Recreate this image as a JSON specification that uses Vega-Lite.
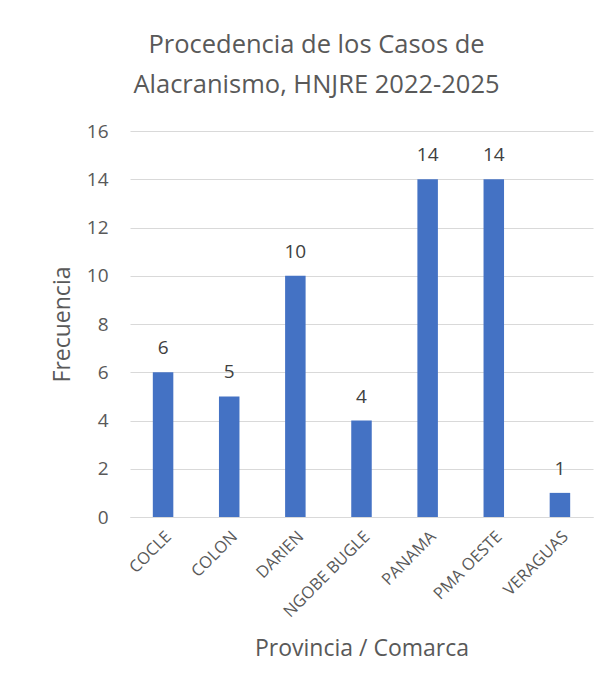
{
  "$schema": "https://vega.github.io/schema/vega-lite/v6.json",
  "width": 463,
  "height": 386,
  "autosize": {"type": "none"},
  "padding": {"left": 130, "top": 131, "right": 17, "bottom": 177},
  "background": "white",
  "title": {
    "text": ["Procedencia de los Casos de", "Alacranismo, HNJRE 2022-2025"],
    "font": "Open Sans",
    "fontSize": 25.5,
    "fontWeight": "normal",
    "color": "#595959",
    "lineHeight": 40,
    "anchor": "middle",
    "frame": "group",
    "dx": -45,
    "offset": 24
  },
  "data": {
    "values": [
      {"lugar": "COCLE", "frecuencia": 6},
      {"lugar": "COLON", "frecuencia": 5},
      {"lugar": "DARIEN", "frecuencia": 10},
      {"lugar": "NGOBE BUGLE", "frecuencia": 4},
      {"lugar": "PANAMA", "frecuencia": 14},
      {"lugar": "PMA OESTE", "frecuencia": 14},
      {"lugar": "VERAGUAS", "frecuencia": 1}
    ]
  },
  "encoding": {
    "x": {
      "field": "lugar",
      "type": "nominal",
      "sort": null,
      "scale": {"paddingInner": 0.69, "paddingOuter": 0.345},
      "axis": {
        "title": "Provincia / Comarca",
        "titleFont": "Open Sans",
        "titleFontSize": 23,
        "titleFontWeight": "normal",
        "titleColor": "#595959",
        "titleY": 131,
        "titleBaseline": "middle",
        "labelAngle": -45,
        "labelFont": "Open Sans",
        "labelFontSize": 16.5,
        "labelColor": "#595959",
        "labelPadding": 11,
        "ticks": false,
        "domainColor": "#D9D9D9",
        "domainWidth": 1
      }
    },
    "y": {
      "field": "frecuencia",
      "type": "quantitative",
      "scale": {"domain": [0, 16]},
      "axis": {
        "title": "Frecuencia",
        "titleFont": "Open Sans",
        "titleFontSize": 23,
        "titleFontWeight": "normal",
        "titleColor": "#595959",
        "titleX": -68,
        "titleBaseline": "middle",
        "values": [0, 2, 4, 6, 8, 10, 12, 14, 16],
        "labelFont": "Open Sans",
        "labelFontSize": 19,
        "labelColor": "#595959",
        "labelPadding": 22,
        "ticks": false,
        "domain": false,
        "gridColor": "#D9D9D9",
        "gridWidth": 1
      }
    }
  },
  "layer": [
    {"mark": {"type": "bar", "color": "#4472C4"}},
    {
      "mark": {"type": "text", "baseline": "alphabetic", "dy": -18, "font": "Open Sans", "fontSize": 19, "color": "#404040"},
      "encoding": {"text": {"field": "frecuencia", "type": "quantitative"}}
    }
  ],
  "config": {"view": {"stroke": null}}
}
